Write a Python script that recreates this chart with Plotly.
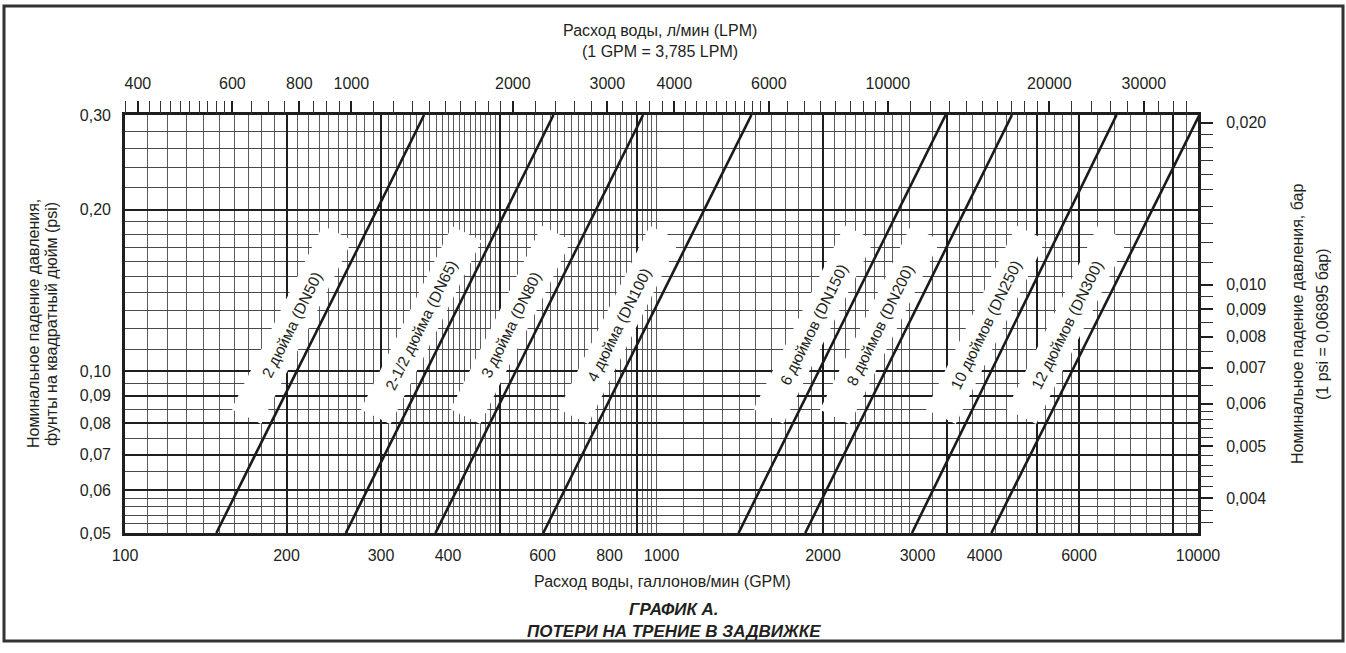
import math
import plotly.graph_objects as go

# ---------------- data ----------------
sizes = ["2 дюйма (DN50)", "2-1/2 дюйма (DN65)", "3 дюйма (DN80)", "4 дюйма (DN100)",
         "6 дюймов (DN150)", "8 дюймов (DN200)", "10 дюймов (DN250)", "12 дюймов (DN300)"]
psi_low = 0.05
psi_high = 0.30
gpm_at_low = [148, 258, 379, 602, 1392, 1853, 2930, 4120]      # GPM where each line meets 0.05 psi
gpm_at_high = [361, 629, 924, 1471, 3385, 4500, 7050, 10060]   # GPM where each line meets 0.30 psi

gpm_ticks = [100, 200, 300, 400, 600, 800, 1000, 2000, 3000, 4000, 6000, 10000]
psi_ticks = [0.05, 0.06, 0.07, 0.08, 0.09, 0.10, 0.20, 0.30]
lpm_ticks = [400, 600, 800, 1000, 2000, 3000, 4000, 6000, 10000, 20000, 30000]
bar_ticks = [0.004, 0.005, 0.006, 0.007, 0.008, 0.009, 0.010, 0.020]

GPM_TO_LPM = 3.785
PSI_TO_BAR = 0.06895

# ---------------- graph-paper grid and minor ticks ----------------
thin_x = ([v for v in range(110, 500, 10)] + [v for v in range(520, 1000, 20)] +
          [v for v in range(1100, 3000, 100)] + [v for v in range(3200, 6000, 200)] +
          [v for v in range(6500, 10000, 500)])
thick_x = [200, 300, 500, 900, 2000, 3400, 5000, 6000, 9000]
thin_y = ([0.052, 0.054, 0.056, 0.058, 0.065, 0.075, 0.085, 0.095] +
          [round(0.11 + 0.01 * i, 2) for i in range(9)] + [0.22, 0.24, 0.26, 0.28])
thick_y = [0.06, 0.07, 0.08, 0.09, 0.10, 0.20]
lpm_minor = ([v for v in range(380, 600, 20)] + [v for v in range(650, 1000, 50)] +
             [v for v in range(1100, 2000, 100)] + [v for v in range(2200, 6000, 200)] +
             [v for v in range(6500, 10000, 500)] + [v for v in range(11000, 20000, 1000)] +
             [v for v in range(22000, 37000, 2000)])
bar_minor = ([0.0036, 0.0038] + [round(0.0042 + 0.0002 * i, 4) for i in range(9) if abs(0.0042 + 0.0002 * i - 0.005) > 1e-6] +
             [0.0065, 0.0075, 0.0085, 0.0095] + [round(0.011 + 0.001 * i, 3) for i in range(9)])

FONT = "Liberation Sans, Arial, sans-serif"
INK = "#231f20"

L, R, T, B = 125, 148, 115, 120
W, H = 1346, 653
PW, PH = W - L - R, H - T - B

x_range = [math.log10(100), math.log10(10000)]
y_range = [math.log10(psi_low), math.log10(psi_high)]
x2_range = [math.log10(100 * GPM_TO_LPM), math.log10(10000 * GPM_TO_LPM)]
y2_range = [math.log10(psi_low * PSI_TO_BAR), math.log10(psi_high * PSI_TO_BAR)]

fig = go.Figure()

for name, q0, q1 in zip(sizes, gpm_at_low, gpm_at_high):
    fig.add_trace(go.Scatter(x=[q0, q1], y=[psi_low, psi_high], mode="lines",
                             line=dict(color="#1a1a1a", width=2.6),
                             name=name, showlegend=False, hoverinfo="skip"))

# invisible traces that bind the secondary axes
fig.add_trace(go.Scatter(x=[10 ** v for v in x2_range], y=[10 ** v for v in y2_range],
                         xaxis="x2", yaxis="y2", mode="lines", line=dict(width=0, color="rgba(0,0,0,0)"),
                         showlegend=False, hoverinfo="skip"))
fig.add_trace(go.Scatter(x=[10 ** v for v in x_range], y=[10 ** v for v in y_range],
                         xaxis="x3", yaxis="y3", mode="lines", line=dict(width=0, color="rgba(0,0,0,0)"),
                         showlegend=False, hoverinfo="skip"))

tickfont = dict(family=FONT, size=16, color=INK)

fig.update_layout(
    width=W, height=H,
    margin=dict(l=L, r=R, t=T, b=B, pad=0),
    paper_bgcolor="white", plot_bgcolor="white",
    hovermode=False,
    font=dict(family=FONT, size=16, color=INK),
    xaxis=dict(type="log", range=x_range, tickvals=thick_x, showticklabels=False, ticks="",
               showgrid=True, gridcolor="#1e1e1e", gridwidth=2,
               minor=dict(tickvals=thin_x, showgrid=True, gridcolor="#5c5c5c", gridwidth=1, ticks=""),
               showline=True, linecolor="#1e1e1e", linewidth=3, mirror=True, zeroline=False),
    yaxis=dict(type="log", range=y_range, tickvals=thick_y, showticklabels=False, ticks="",
               showgrid=True, gridcolor="#1e1e1e", gridwidth=2,
               minor=dict(tickvals=thin_y, showgrid=True, gridcolor="#4a4a4a", gridwidth=1, ticks=""),
               showline=True, linecolor="#1e1e1e", linewidth=3, mirror=True, zeroline=False),
    xaxis2=dict(type="log", overlaying="x", side="top", anchor="y", range=x2_range,
                tickvals=lpm_ticks, ticktext=[str(v) for v in lpm_ticks], tickfont=tickfont,
                ticks="outside", ticklen=13, tickwidth=2.4, tickcolor="#1e1e1e",
                minor=dict(tickvals=lpm_minor, ticks="outside", ticklen=13, tickwidth=1.2,
                           tickcolor="#333333", showgrid=False),
                showgrid=False, showline=False, zeroline=False, ticklabelstandoff=6),
    xaxis3=dict(type="log", overlaying="x", side="bottom", anchor="y", range=x_range,
                tickvals=gpm_ticks, ticktext=[str(v) for v in gpm_ticks], tickfont=tickfont,
                ticks="", showgrid=False, showline=False, zeroline=False, ticklabelstandoff=11),
    yaxis2=dict(type="log", overlaying="y", side="right", anchor="x", range=y2_range,
                tickvals=bar_ticks, ticktext=[f"{v:.3f}".replace(".", ",") for v in bar_ticks],
                tickfont=tickfont, ticks="outside", ticklen=14, tickwidth=2.4, tickcolor="#1e1e1e",
                minor=dict(tickvals=bar_minor, ticks="outside", ticklen=14, tickwidth=1.2,
                           tickcolor="#333333", showgrid=False),
                showgrid=False, showline=False, zeroline=False, ticklabelstandoff=10),
    yaxis3=dict(type="log", overlaying="y", side="left", anchor="x", range=y_range,
                tickvals=psi_ticks, ticktext=[f"{v:.2f}".replace(".", ",") for v in psi_ticks],
                tickfont=tickfont, ticks="", showgrid=False, showline=False, zeroline=False,
                ticklabelstandoff=13),
)

# labels along the lines
label_psi = 0.122
px_dec_x = PW / (x_range[1] - x_range[0])
px_dec_y = PH / (y_range[1] - y_range[0])
for name, q0, q1 in zip(sizes, gpm_at_low, gpm_at_high):
    lq0, lq1 = math.log10(q0), math.log10(q1)
    t = (math.log10(label_psi) - y_range[0]) / (y_range[1] - y_range[0])
    lq = lq0 + t * (lq1 - lq0)
    slope = (y_range[1] - y_range[0]) * px_dec_y / ((lq1 - lq0) * px_dec_x)
    ang = math.degrees(math.atan(slope))
    fig.add_annotation(x=lq, y=math.log10(label_psi), xref="x", yref="y", text=name,
                       textangle=-ang, showarrow=False, bgcolor="white", width=200, height=28,
                       borderpad=2, xshift=-28, font=dict(family=FONT, size=15.5, color=INK))

def px_to_paper_x(px):
    return (px - L) / PW

def px_to_paper_y(py):
    return (H - B - py) / PH

texts = [
    ("Расход воды, л/мин (LPM)", 660, 30, 0, False),
    ("(1 GPM = 3,785 LPM)", 660, 52, 0, False),
    ("Расход воды, галлонов/мин (GPM)", 662, 581, 0, False),
    ("<b><i>ГРАФИК А.</i></b>", 674, 609, 0, True),
    ("<b><i>ПОТЕРИ НА ТРЕНИЕ В ЗАДВИЖКЕ</i></b>", 674, 631, 0, True),
    ("Номинальное падение давления,", 33, 324, -90, False),
    ("фунты на квадратный дюйм (psi)", 51, 324, -90, False),
    ("Номинальное падение давления, бар", 1297, 324, -90, False),
    ("(1 psi = 0,06895 бар)", 1322, 324, -90, False),
]
for txt, px, py, ang, bold in texts:
    fig.add_annotation(x=px_to_paper_x(px), y=px_to_paper_y(py), xref="paper", yref="paper",
                       text=txt, showarrow=False, textangle=ang, xanchor="center", yanchor="middle",
                       font=dict(family=FONT, size=16 if not bold else 17, color=INK))

# outer frame of the figure
fig.add_shape(type="rect", xref="paper", yref="paper",
              x0=px_to_paper_x(4), x1=px_to_paper_x(1343), y0=px_to_paper_y(641), y1=px_to_paper_y(6),
              line=dict(color="#333333", width=3), fillcolor="rgba(0,0,0,0)", layer="above")

fig.write_html("out.html", config={"displayModeBar": False},
               post_script="document.body.style.margin='0';")
